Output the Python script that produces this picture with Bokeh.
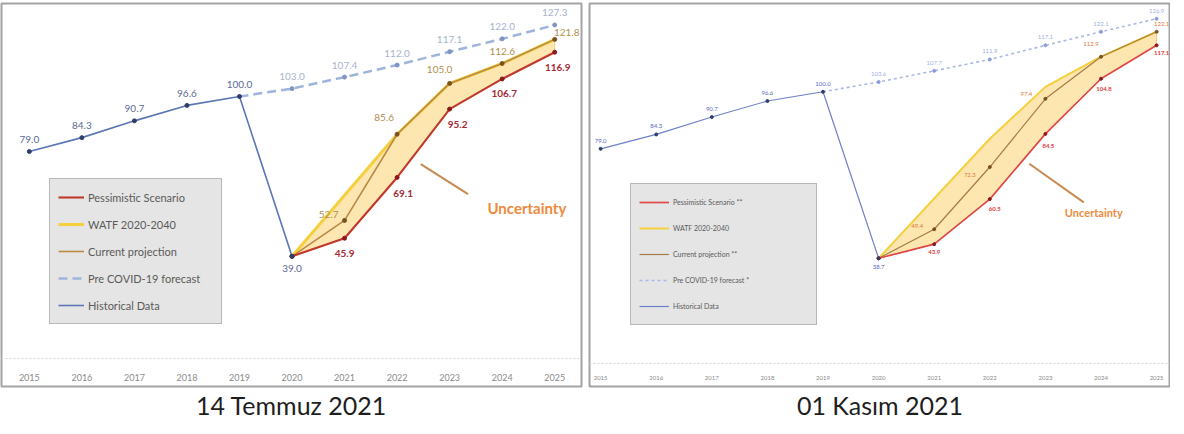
from bokeh.plotting import figure
from bokeh.layouts import row
from bokeh.models import Range1d, Span, Legend, LegendItem, ColumnDataSource
from bokeh.embed import file_html
from bokeh.resources import INLINE
from bokeh.core.properties import value

# ---------------- data ----------------
YEARS = [2015, 2016, 2017, 2018, 2019, 2020, 2021, 2022, 2023, 2024, 2025]
YEAR_LABELS = [str(y) for y in YEARS]
HIST_YEARS = [2015, 2016, 2017, 2018, 2019, 2020]
PRE_YEARS = [2019, 2020, 2021, 2022, 2023, 2024, 2025]
PROJ_YEARS = [2020, 2021, 2022, 2023, 2024, 2025]
WATF_YEARS = [2020, 2022, 2023, 2024, 2025]

# 14 Temmuz 2021 (left)
L_HIST = [79.0, 84.3, 90.7, 96.6, 100.0, 39.0]
L_PRE = [100.0, 103.0, 107.4, 112.0, 117.1, 122.0, 127.3]
L_PESS = [39.0, 45.9, 69.1, 95.2, 106.7, 116.9]
L_CURR = [39.0, 52.7, 85.6, 105.0, 112.6, 121.8]
L_WATF = [39.0, 85.6, 105.0, 112.6, 121.8]
L_LEGEND = ["Pessimistic Scenario", "WATF 2020-2040", "Current projection",
            "Pre COVID-19 forecast", "Historical Data"]

# 01 Kasım 2021 (right)
R_HIST = [79.0, 84.3, 90.7, 96.6, 100.0, 38.7]
R_PRE = [100.0, 103.6, 107.7, 111.9, 117.1, 122.1, 126.9]
R_PESS = [38.7, 43.9, 60.5, 84.5, 104.8, 117.1]
R_CURR = [38.7, 49.4, 72.3, 97.4, 112.9, 122.1]
R_WATF = [38.7, 82.7, 101.8, 112.9, 122.1]
R_LEGEND = ["Pessimistic Scenario **", "WATF 2020-2040", "Current projection **",
            "Pre COVID-19 forecast *", "Historical Data"]

FONT = "Lato"


def fmt(vals):
    return ["%.1f" % v for v in vals]


def make_chart(hist, pre, pess, curr, watf, legend_names, caption, st):
    p = figure(frame_width=st["fw"], frame_height=383,
               min_border_left=1, min_border_right=st["mbr"], min_border_top=3, min_border_bottom=0,
               x_range=Range1d(*st["xr"]), y_range=Range1d(*st["yr"]),
               x_axis_location=None, y_axis_location=None,
               output_backend="svg", toolbar_location=None,
               title=caption, title_location="below")
    p.grid.visible = False
    p.outline_line_color = "#a3a3a3"
    p.outline_line_width = 2
    p.background_fill_color = "white"
    p.border_fill_color = "white"
    p.title.align = "center"
    p.title.text_font = FONT
    p.title.text_font_size = "25px"
    p.title.text_font_style = "normal"
    p.title.text_color = "#1e1e1e"
    p.title.standoff = 3

    # baseline / x axis line
    p.add_layout(Span(location=0, dimension="width", line_color="#d4d4d4",
                      line_dash="2 2", line_width=1))
    p.text(x=YEARS, y=[st["ylab"]] * len(YEARS), text=YEAR_LABELS,
           text_font=value(FONT), text_font_size=st["fs_year"], text_color="#8a8a8a",
           text_align="center", text_baseline="middle")

    # uncertainty band
    band_x = WATF_YEARS + PROJ_YEARS[::-1]
    band_y = watf + pess[::-1]
    p.patch(band_x, band_y, fill_color="#fde3a6", fill_alpha=0.9,
            line_color="#f6c87a", line_width=1)

    # series
    r_pre = p.line(PRE_YEARS, pre, line_color=st["c_pre"], line_width=st["lw_pre"],
                   line_dash=st["dash_pre"])
    p.scatter(PRE_YEARS[1:], pre[1:], size=st["ms"], color=st["c_pre_m"])
    r_watf = p.line(WATF_YEARS, watf, line_color="#f4d03f", line_width=st["lw_watf"])
    r_curr = p.line(PROJ_YEARS, curr, line_color=st["c_curr"], line_width=st["lw"])
    p.scatter(PROJ_YEARS, curr, size=st["ms"], color="#7a5222")
    r_pess = p.line(PROJ_YEARS, pess, line_color=st["c_pess"], line_width=st["lw"] + 0.5)
    p.scatter(PROJ_YEARS, pess, size=st["ms"], color="#8b1a1a")
    r_hist = p.line(HIST_YEARS, hist, line_color=st["c_hist"], line_width=st["lw"])
    p.scatter(HIST_YEARS, hist, size=st["ms"], color="#2f3d6b")

    # value labels
    def labels(xs, vals, offs, color, bold=False):
        src = ColumnDataSource(dict(x=xs, y=vals, t=fmt(vals),
                                    xo=[o[0] for o in offs], yo=[o[1] for o in offs]))
        p.text(x="x", y="y", text="t", x_offset="xo", y_offset="yo", source=src,
               text_font=value(FONT), text_font_size=st["fs_lab"], text_color=color,
               text_font_style="bold" if bold else "normal",
               text_align="center", text_baseline="middle")

    labels(HIST_YEARS, hist, st["o_hist"], st["t_hist"])
    labels(PRE_YEARS[1:], pre[1:], st["o_pre"], st["t_pre"])
    labels(PROJ_YEARS[1:], curr[1:], st["o_curr"], st["t_curr"])
    labels(PROJ_YEARS[1:], pess[1:], st["o_pess"], st["t_pess"], bold=True)

    # uncertainty annotation
    (x0, y0), (x1, y1) = st["ptr"]
    p.line([x0, x1], [y0, y1], line_color="#c98a52", line_width=st["lw_ptr"])
    p.text(x=[st["unc"][0]], y=[st["unc"][1]], text=["Uncertainty"],
           text_font=value(FONT), text_font_size=st["fs_unc"], text_font_style="bold",
           text_color="#ee8a3c", text_align="left", text_baseline="middle")

    items = [
        LegendItem(label=legend_names[0], renderers=[r_pess]),
        LegendItem(label=legend_names[1], renderers=[r_watf]),
        LegendItem(label=legend_names[2], renderers=[r_curr]),
        LegendItem(label=legend_names[3], renderers=[r_pre]),
        LegendItem(label=legend_names[4], renderers=[r_hist]),
    ]
    leg = Legend(items=items, location=st["leg_loc"], orientation="vertical",
                 background_fill_color="#e5e5e5", background_fill_alpha=1.0,
                 border_line_color="#8c8c8c", border_line_width=1.5,
                 label_text_font=FONT, label_text_font_size=st["fs_leg"],
                 label_text_color="#5a5a5a", label_height=20, glyph_height=20,
                 glyph_width=st["gw"], label_width=st["lwid"], spacing=st["sp"],
                 padding=8, margin=0, label_standoff=4)
    p.add_layout(leg, "center")
    return p


left_style = dict(
    fw=580, mbr=7, xr=(2014.47, 2025.51), yr=(-10.7, 135.5), ylab=-7.2,
    fs_year="9px", fs_lab="10px", fs_leg="11px", fs_unc="15px",
    c_pre="#9fb4da", c_pre_m="#7f95c4", lw_pre=2.5, dash_pre="9 5",
    c_curr="#b98a45", c_pess="#c0392b", c_hist="#5b76b5", lw=1.6, lw_watf=3, ms=4,
    t_hist="#5b6a96", t_pre="#a7b3cc", t_curr="#b0904f", t_pess="#a52a35",
    o_hist=[(0, -12), (0, -12), (0, -12), (0, -12), (0, -12), (0, 12)],
    o_pre=[(0, -12), (0, -12), (0, -12), (0, -12), (0, -12), (0, -12)],
    o_curr=[(-16, -6), (-13, -17), (-10, -14), (0, -12), (12, -7)],
    o_pess=[(0, 15), (6, 16), (8, 15), (2, 15), (3, 15)],
    ptr=((2022.45, 74.2), (2023.35, 62.7)), unc=(2023.72, 57.5), lw_ptr=2,
    leg_loc=(48, 62), gw=26, lwid=125, sp=7,
)

right_style = dict(
    fw=581, mbr=0, xr=(2014.8, 2025.25), yr=(-8.5, 132.5), ylab=-5.4,
    fs_year="6px", fs_lab="6px", fs_leg="7px", fs_unc="11px",
    c_pre="#a9b8e6", c_pre_m="#8a9bd6", lw_pre=1.6, dash_pre="3 3",
    c_curr="#a77c45", c_pess="#e04848", c_hist="#6f80c8", lw=1.2, lw_watf=2, ms=3,
    t_hist="#5868c0", t_pre="#9fb0dd", t_curr="#e07a3a", t_pess="#e03a3a",
    o_hist=[(0, -8), (0, -8), (0, -8), (0, -8), (0, -8), (0, 9)],
    o_pre=[(0, -8), (0, -8), (0, -8), (0, -8), (0, -8), (0, -8)],
    o_curr=[(-17, -3), (-20, 8), (-19, -5), (-10, -13), (5, -8)],
    o_pess=[(0, 8), (5, 10), (3, 12), (3, 10), (5, 8)],
    ptr=((2022.71, 73.5), (2023.69, 59.3)), unc=(2023.35, 55.5), lw_ptr=2,
    leg_loc=(41, 61), gw=30, lwid=135, sp=6,
)

p1 = make_chart(L_HIST, L_PRE, L_PESS, L_CURR, L_WATF, L_LEGEND, "14 Temmuz 2021", left_style)
p2 = make_chart(R_HIST, R_PRE, R_PESS, R_CURR, R_WATF, R_LEGEND, "01 Kasım 2021", right_style)

layout = row(p1, p2, spacing=0)
open("out.html", "w").write(file_html(layout, INLINE))
